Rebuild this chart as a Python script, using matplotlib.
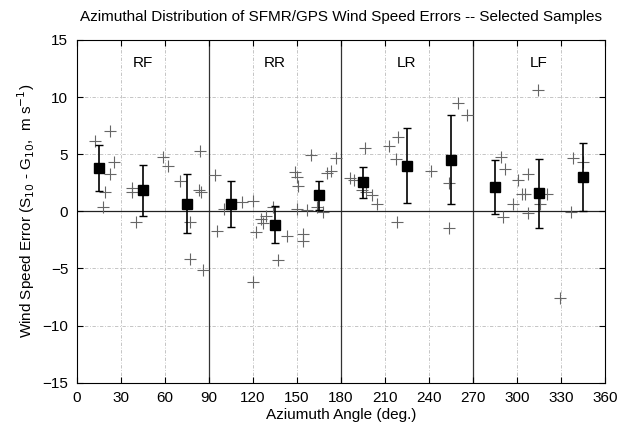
import numpy as np
from matplotlib import pyplot as plt

# individual samples (azimuth deg, error m/s)
sample_az = [12.5, 22.7, 25.6, 22.7, 19.3, 17.7, 37.5, 37.5, 40.2, 58.6, 62.5, 70.4,
             77.2, 77.2, 84.0, 83.6, 85.0, 85.9,
             94.3, 100.4, 95.4, 112.9, 120.4, 122.0, 120.4, 125.8, 127.2, 129.0, 133.6,
             137.4, 143.6, 148.8, 150.4, 151.1, 150.0, 154.5, 154.5, 157.2, 159.5, 163.6,
             167.7, 170.4, 173.1, 176.8,
             186.3, 189.2, 196.5, 194.3, 197.0, 201.1, 204.9, 213.1, 218.8, 217.7, 218.3,
             241.3, 254.0, 253.8, 260.1, 266.3,
             289.2, 292.0, 290.8, 297.6, 300.6, 307.8, 303.7, 305.6, 307.2, 314.3, 315.8,
             320.8, 329.0, 337.0, 338.5, 344.7]
sample_err = [6.15, 7.0, 4.34, 3.29, 1.72, 0.35, 2.0, 1.7, -0.96, 4.72, 3.96, 2.62,
              -0.91, -4.17, 5.27, 1.86, 1.7, -5.14,
              3.2, 0.17, -1.7, 0.79, 0.9, -1.84, -6.2, -0.7, -1.05, -0.41, 0.4,
              -4.26, -2.13, 3.47, 3.03, 2.21, 0.17, -2.01, -2.57, 0.11, 4.93, 0.35,
              -0.09, 3.32, 3.53, 4.64,
              2.94, 2.74, 5.57, 1.86, 1.72, 1.43, 0.61, 5.71, 6.53, 4.58, -0.91,
              3.53, 2.5, -1.43, 9.45, 8.43,
              4.78, 3.67, -0.47, 0.64, 2.74, 3.24, 1.51, 1.51, -0.12, 10.61, 0.64,
              1.51, -7.61, -0.09, 4.69, 4.34]

# bin means and standard deviations
bin_az = [15, 45, 75, 105, 135, 165, 195, 225, 255, 285, 315, 345]
bin_mean = [3.8, 1.86, 0.67, 0.67, -1.17, 1.4, 2.54, 3.99, 4.52, 2.13, 1.57, 3.0]
bin_std = [2.0, 2.23, 2.6, 2.0, 1.6, 1.3, 1.36, 3.28, 3.88, 2.36, 3.03, 2.98]

quadrants = ['RF', 'RR', 'LR', 'LF']
quad_center = [45, 135, 225, 315]

plt.rcParams['font.family'] = ['Liberation Sans', 'DejaVu Sans']

fig = plt.figure(figsize=(6.18, 4.30), dpi=100)
ax = fig.add_axes([0.124, 0.110, 0.855, 0.797])

# grid
for gx in range(30, 360, 30):
    if gx % 90 != 0:
        ax.axvline(gx, color='#bbbbbb', lw=0.6, ls=(0, (4, 2, 1, 2)), zorder=0)
for gy in range(-10, 15, 5):
    if gy != 0:
        ax.axhline(gy, color='#bbbbbb', lw=0.6, ls=(0, (4, 2, 1, 2)), zorder=0)
for qx in (90, 180, 270):
    ax.axvline(qx, color='#333333', lw=0.9, zorder=1)
ax.axhline(0, color='#222222', lw=0.9, zorder=1)

ax.plot(sample_az, sample_err, ls='none', marker='+', ms=9, mew=0.8,
        color='#666666', zorder=2)
ax.errorbar(bin_az, bin_mean, yerr=bin_std, fmt='s', ms=6.5, color='black',
            ecolor='black', elinewidth=1.2, capsize=3, capthick=1.0, zorder=3)

for q, c in zip(quadrants, quad_center):
    ax.text(c, 13.0, q, ha='center', va='center', fontsize=11)

ax.set_xlim(0, 360)
ax.set_ylim(-15, 15)
ax.set_xticks(np.arange(0, 361, 30))
ax.set_yticks(np.arange(-15, 16, 5))
ax.tick_params(direction='in', top=True, right=True, labelsize=11, length=4, pad=6)
ax.set_xlabel('Aziumuth Angle (deg.)', fontsize=11, labelpad=2)
ax.set_ylabel('Wind Speed Error (S$_{10}$ - G$_{10}$,  m s$^{-1}$)', fontsize=11, labelpad=4)
ax.set_title('Azimuthal Distribution of SFMR/GPS Wind Speed Errors -- Selected Samples',
             fontsize=11, pad=14)

fig.savefig('out.png', dpi=100)
